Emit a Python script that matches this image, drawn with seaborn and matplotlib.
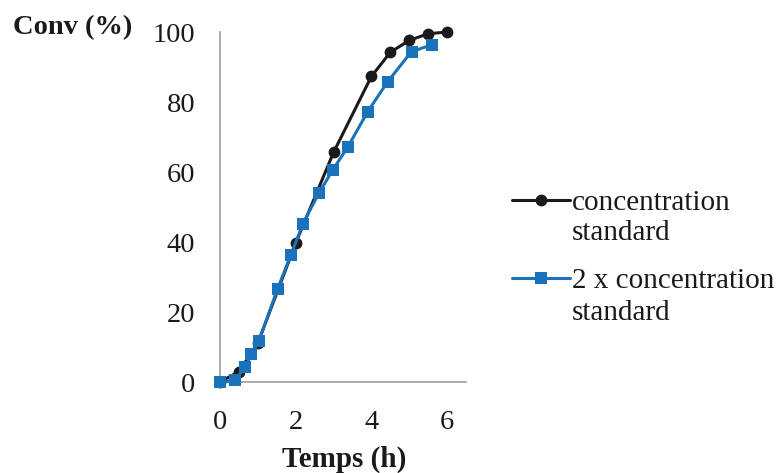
import matplotlib
matplotlib.use("Agg")
import matplotlib.pyplot as plt
import seaborn as sns
import pandas as pd

# Data
time_std = [0, 0.5, 1.0, 2.0, 3.0, 4.0, 4.5, 5.0, 5.5, 6.0]
conv_std = [0, 3.0, 11.1, 39.7, 65.6, 87.3, 94.2, 97.6, 99.5, 100]

time_2x = [0, 0.4, 0.66, 0.83, 1.03, 1.52, 1.87, 2.19, 2.61, 2.98, 3.38, 3.9, 4.43, 5.06, 5.59]
conv_2x = [0, 0.5, 4.3, 7.9, 11.8, 26.6, 36.2, 45.2, 53.9, 60.6, 67.2, 77.2, 85.8, 94.4, 96.3]

label_std = ["concentration", "standard"]
label_2x = ["2 x concentration", "standard"]

x_ticks = [0, 2, 4, 6]
y_ticks = [0, 20, 40, 60, 80, 100]

sns.set_style("white")
plt.rcParams['font.family'] = ['Liberation Serif', 'DejaVu Serif']

fig = plt.figure(figsize=(7.77, 4.73), dpi=100)
ax = fig.add_axes([220/777, 1-382/473, (466-220)/777, 350/473])

df_std = pd.DataFrame({"t": time_std, "c": conv_std})
df_2x = pd.DataFrame({"t": time_2x, "c": conv_2x})

sns.lineplot(data=df_std, x="t", y="c", ax=ax, color="#1a1a1a", marker="o",
             markersize=8.5, markeredgewidth=0, linewidth=2.2, label=label_std[0], zorder=3)
sns.lineplot(data=df_2x, x="t", y="c", ax=ax, color="#1a72bb", marker="s",
             markersize=8.5, markeredgewidth=0, linewidth=2.2, label=label_2x[0], zorder=4)

ax.set_xlim(0, 6.5)
ax.set_ylim(0, 100)
ax.set_xticks(x_ticks)
ax.set_yticks(y_ticks)
ax.set_xlabel("")
ax.set_ylabel("")

for s in ["top", "right"]:
    ax.spines[s].set_visible(False)
for s in ["left", "bottom"]:
    ax.spines[s].set_color("#a6a6a6")
    ax.spines[s].set_linewidth(1.3)

ax.tick_params(axis="both", direction="in", length=6, width=1.3, color="#a6a6a6",
               labelsize=20.5, labelcolor="#1a1a1a")
ax.tick_params(axis="y", pad=18)
ax.tick_params(axis="x", pad=20)
for line in ax.lines:
    line.set_clip_on(False)

fig.text(13/777, 1-28/473, "Conv (%)", fontsize=20.5, fontweight="bold",
         ha="left", va="center", color="#1a1a1a")
fig.text(344/777, 1-459/473, "Temps (h)", fontsize=21, fontweight="bold",
         ha="center", va="center", color="#1a1a1a")

leg = ax.legend(loc="upper left", bbox_to_anchor=(512/777, 1-190/473),
                bbox_transform=fig.transFigure, frameon=False, fontsize=21,
                handlelength=2.0, handletextpad=0.05, labelspacing=1.75,
                borderaxespad=0, borderpad=0)
for t in leg.get_texts():
    t.set_color("#1a1a1a")

fig.text(572/777, 1-233/473, label_std[1], fontsize=21, ha="left", va="center",
         color="#1a1a1a")
fig.text(572/777, 1-313/473, label_2x[1], fontsize=21, ha="left", va="center",
         color="#1a1a1a")

fig.savefig("out.png", dpi=100)
